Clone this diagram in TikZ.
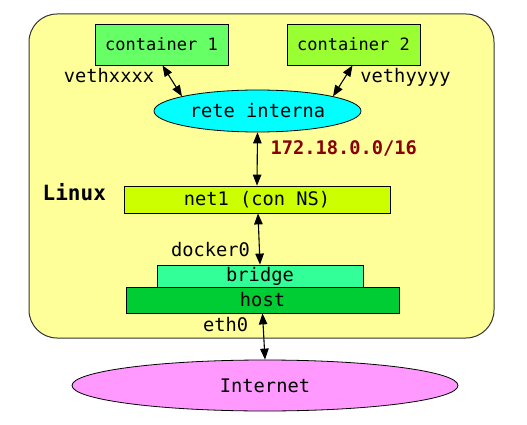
\documentclass[tikz,border=0pt]{standalone}
\usepackage{fontspec}
\setmainfont{DejaVu Sans Mono}
\setmonofont{DejaVu Sans Mono}
\usetikzlibrary{shapes.geometric,arrows.meta}
\definecolor{linuxbg}{HTML}{FFFF99}
\definecolor{conecol}{HTML}{66FF66}
\definecolor{ctwocol}{HTML}{99FF33}
\definecolor{netcol}{HTML}{CCFF00}
\definecolor{brcol}{HTML}{33FF99}
\definecolor{hostcol}{HTML}{00CC33}
\definecolor{inetcol}{HTML}{FF99FF}
\definecolor{ipcol}{HTML}{880000}
\definecolor{ricol}{HTML}{00FFFF}
\begin{document}
\begin{tikzpicture}[x=1pt,y=-1pt,
  box/.style={draw=black, line width=0.8pt, rectangle, inner sep=0pt, font=\fontsize{18.7}{22}\selectfont},
  ell/.style={draw=black, line width=0.8pt, ellipse, inner sep=0pt, font=\fontsize{18.7}{22}\selectfont},
  lbl/.style={inner sep=0pt, anchor=base, font=\fontsize{18.7}{22}\selectfont},
  conn/.style={line width=1.1pt, {Triangle[length=11pt,width=8.5pt]}-{Triangle[length=11pt,width=8.5pt]}}]
\useasboundingbox (0,0) rectangle (527,425);
\node[draw=black!80, line width=1pt, rounded corners=28pt, fill=linuxbg, minimum width=465pt, minimum height=324pt, inner sep=0pt] (linux) at (261.5,176) {};
\node[box, fill=conecol, minimum width=133pt, minimum height=41pt, font=\fontsize{17}{20}\selectfont] (c1) at (161.5,44.5) {container 1};
\node[box, fill=ctwocol, minimum width=133pt, minimum height=41pt, font=\fontsize{17}{20}\selectfont] (c2) at (353.5,44.5) {container 2};
\node[ell, fill=ricol, minimum width=207pt, minimum height=42pt] (ri) at (257.5,111) {rete interna};
\node[box, fill=netcol, minimum width=266pt, minimum height=27pt] (n1) at (257,199.5) {net1 (con NS)};
\node[box, fill=brcol, minimum width=206pt, minimum height=22pt] (br) at (260,276) {bridge};
\node[box, fill=hostcol, minimum width=273pt, minimum height=26pt] (ho) at (262.5,300) {host};
\node[ell, fill=inetcol, minimum width=386pt, minimum height=51pt] (in) at (265,385.5) {Internet};
\node[lbl] (vx) at (109,83) {vethxxxx};
\node[lbl] (vy) at (405.5,83) {vethyyyy};
\node[lbl, text=ipcol, font=\fontsize{18.7}{22}\selectfont\bfseries] (ip) at (343.7,154) {172.18.0.0/16};
\node[lbl, font=\fontsize{21}{24}\selectfont\bfseries] (lx) at (74.3,200) {Linux};
\node[lbl] (d0) at (210.5,256.7) {docker0};
\node[lbl] (e0) at (225.7,331.7) {eth0};
\draw[conn] ([xshift=1pt]c1.south) -- (ri.169);
\draw[conn] ([xshift=-1pt]c2.south) -- (ri.11);
\draw[conn] (ri.south) -- (n1.north);
\draw[conn] ([xshift=1pt]n1.south) -- (br.north);
\draw[conn] (ho.south) -- (in.north);
\end{tikzpicture}
\end{document}
